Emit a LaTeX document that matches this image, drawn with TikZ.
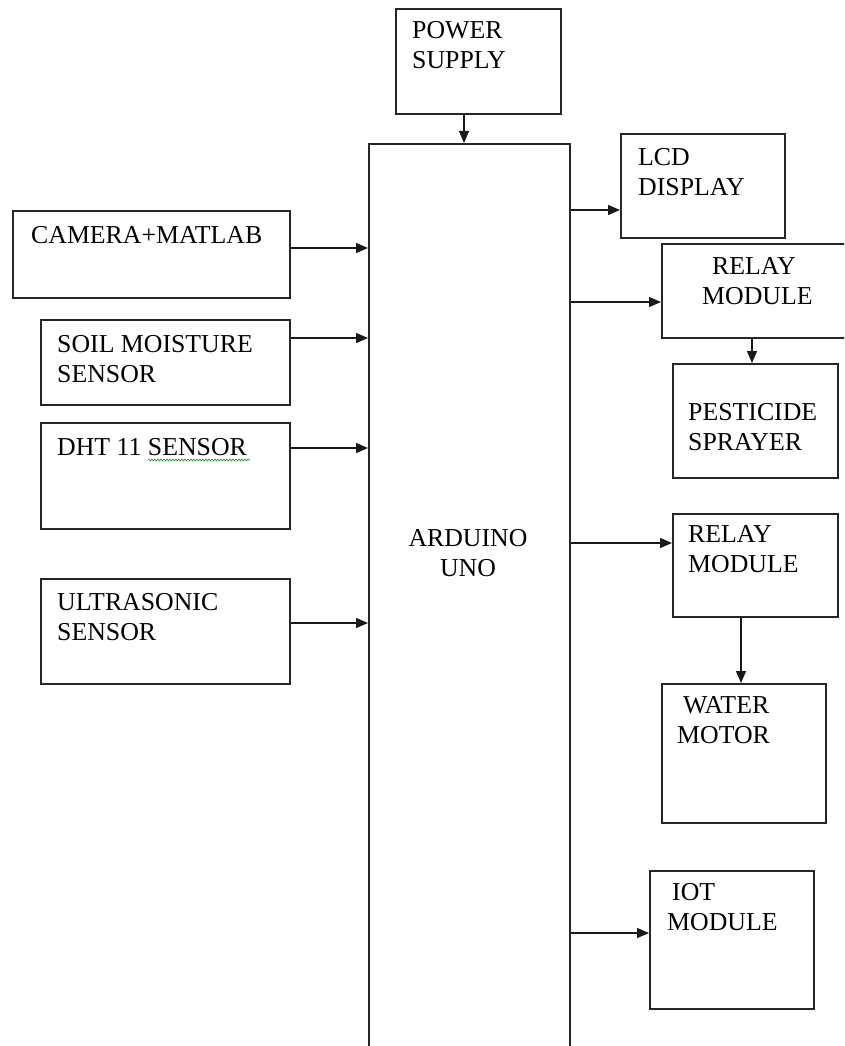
\documentclass[tikz,border=0pt]{standalone}
\usepackage{fontspec}
\setmainfont{Liberation Serif}
\usetikzlibrary{arrows.meta,positioning,decorations.pathmorphing}

\tikzset{
  blk/.style={draw=black!85, line width=1.6pt, anchor=north west, inner sep=0pt},
  lbl/.style={anchor=base west, inner sep=0pt, align=left, font=\fontsize{25.8}{30}\selectfont},
  arr/.style={draw=black!90, line width=1.3pt, -{Triangle[length=12pt,width=10pt]}}
}

\begin{document}
\begin{tikzpicture}[x=1pt,y=-1pt]
  \useasboundingbox (0,0) rectangle (844,1046);
  \clip (0,0) rectangle (844,1046);
  % Blocks (top-left corner at coordinates, size in px)
  \node[blk, minimum width=165, minimum height=105] (pwr)    at (395,8)   {};
  \node[blk, minimum width=201, minimum height=930] (ard)    at (368,143) {};
  \node[blk, minimum width=277, minimum height=87]  (cam)    at (12,210)  {};
  \node[blk, minimum width=249, minimum height=85]  (soil)   at (40,319)  {};
  \node[blk, minimum width=249, minimum height=106] (dht)    at (40,422)  {};
  \node[blk, minimum width=249, minimum height=105] (ultra)  at (40,578)  {};
  \node[blk, minimum width=164, minimum height=104] (lcd)    at (620,133) {};
  \node[blk, minimum width=190, minimum height=94]  (relayA) at (661,243) {};
  \node[blk, minimum width=165, minimum height=114] (pest)   at (672,363) {};
  \node[blk, minimum width=165, minimum height=103] (relayB) at (672,513) {};
  \node[blk, minimum width=164, minimum height=139] (motor)  at (661,683) {};
  \node[blk, minimum width=164, minimum height=138] (iot)    at (649,870) {};
  % Labels (placed at the baseline of the last line)
  \node[lbl] (pwrT)    at (412,69)  {POWER\\SUPPLY};
  \node[lbl, anchor=base] (ardT) at (468,576) {\hfil ARDUINO\hfil\\\hfil UNO\hfil};
  \node[lbl] (camT)    at (31,243)  {CAMERA+MATLAB};
  \node[lbl] (soilT)   at (57,382)  {SOIL MOISTURE\\SENSOR};
  \node[lbl] (dhtT)    at (57,455)  {DHT 11 SENSOR};
  \node[lbl] (ultraT)  at (57,640)  {ULTRASONIC\\SENSOR};
  \node[lbl] (lcdT)    at (638,195) {LCD\\DISPLAY};
  \node[lbl] (relayAT) at (702,304) {\hspace{10pt}RELAY\\MODULE};
  \node[lbl] (pestT)   at (688,450) {PESTICIDE\\SPRAYER};
  \node[lbl] (relayBT) at (688,572) {RELAY\\MODULE};
  \node[lbl] (motorT)  at (677,743) {\hspace{6pt}WATER\\MOTOR};
  \node[lbl] (iotT)    at (667,930) {\hspace{5pt}IOT\\MODULE};
  % spell-check squiggle under SENSOR
  \draw[green!60!black, line width=0.6pt, decorate,
        decoration={snake, amplitude=1pt, segment length=3pt}]
    (148,460) -- (250,460);
  % Inputs
  \draw[arr] (pwr.south -| 464,0) -- (ard.north -| 464,0);
  \draw[arr] (cam.east |- 0,248)   -- (ard.west |- 0,248);
  \draw[arr] (soil.east |- 0,338)  -- (ard.west |- 0,338);
  \draw[arr] (dht.east |- 0,448)   -- (ard.west |- 0,448);
  \draw[arr] (ultra.east |- 0,623) -- (ard.west |- 0,623);
  % Outputs
  \draw[arr] (ard.east |- 0,210) -- (lcd.west |- 0,210);
  \draw[arr] (ard.east |- 0,302) -- (relayA.west |- 0,302);
  \draw[arr] (relayA.south -| 752,0) -- (pest.north -| 752,0);
  \draw[arr] (ard.east |- 0,543) -- (relayB.west |- 0,543);
  \draw[arr] (relayB.south -| 741,0) -- (motor.north -| 741,0);
  \draw[arr] (ard.east |- 0,933) -- (iot.west |- 0,933);
\end{tikzpicture}
\end{document}
